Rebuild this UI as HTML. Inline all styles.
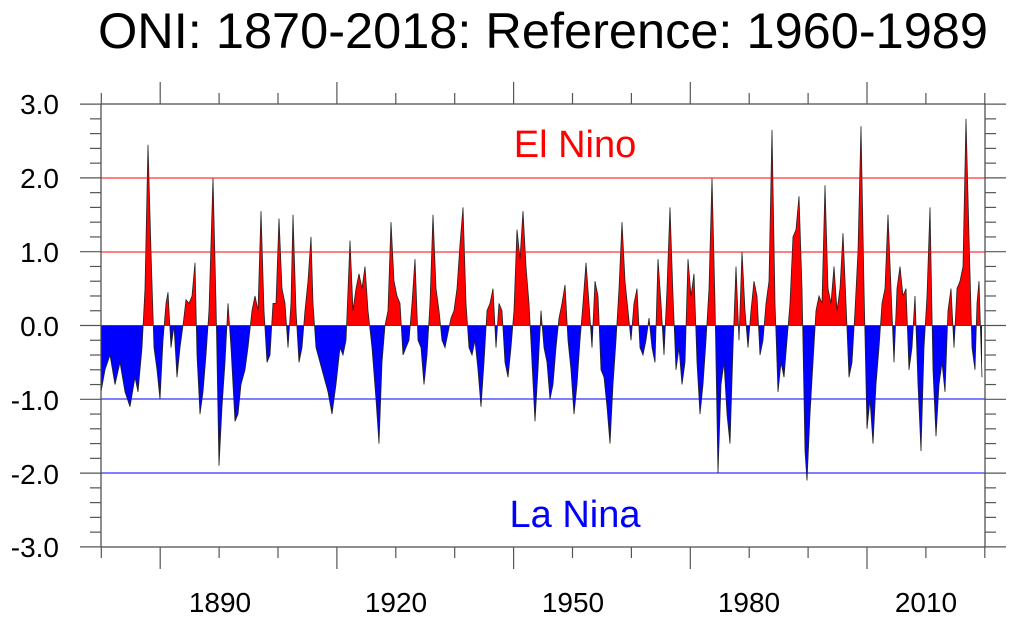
<!DOCTYPE html>
<html><head><meta charset="utf-8"><style>
html,body{margin:0;padding:0;background:#fff;}
svg{display:block;font-family:"Liberation Sans",sans-serif;}
</style></head><body>
<svg id="s" width="1016" height="622" viewBox="0 0 1016 622" xmlns="http://www.w3.org/2000/svg">
<defs>
<clipPath id="up"><rect x="101" y="104" width="884" height="221.5"/></clipPath>
<clipPath id="dn"><rect x="101" y="325.5" width="884" height="222"/></clipPath>
</defs>
<text x="543" y="48" font-size="50.5" text-anchor="middle">ONI: 1870-2018: Reference: 1960-1989</text>
<g id="area"></g>
<line x1="101" x2="985" y1="178" y2="178" stroke="#f00" stroke-width="1"/>
<line x1="101" x2="985" y1="252" y2="252" stroke="#f00" stroke-width="1"/>
<line x1="101" x2="985" y1="399" y2="399" stroke="#00f" stroke-width="1"/>
<line x1="101" x2="985" y1="473" y2="473" stroke="#00f" stroke-width="1"/>
<text x="575" y="157" font-size="38" fill="#f00" text-anchor="middle">El Nino</text>
<text x="575" y="527" font-size="38" fill="#00f" text-anchor="middle">La Nina</text>
<rect x="101" y="104" width="884" height="443" fill="none" stroke="#444" stroke-width="1.2"/>
<g id="ticks" stroke="#555" stroke-width="1.2"></g>
<g font-size="28" text-anchor="end">
<text x="59" y="114">3.0</text><text x="59" y="188">2.0</text><text x="59" y="262">1.0</text>
<text x="59" y="336">0.0</text><text x="59" y="410">-1.0</text><text x="59" y="484">-2.0</text><text x="59" y="557">-3.0</text>
</g>
<g font-size="28" text-anchor="middle">
<text x="220" y="612">1890</text><text x="396" y="612">1920</text><text x="573" y="612">1950</text>
<text x="749" y="612">1980</text><text x="926" y="612">2010</text>
</g>
</svg>
<script>
var P=[101,-0.9,105,-0.6,110,-0.4,115,-0.8,120,-0.5,125,-0.9,130,-1.1,135,-0.7,138,-0.9,142,-0.3,145,0.5,148,2.45,151,1.0,154,-0.3,157,-0.6,160,-1.0,163,-0.2,166,0.3,168,0.45,171,-0.3,174,0,177,-0.7,180,-0.3,183,0,186,0.35,189,0.3,192,0.4,195,0.85,197,-0.4,200,-1.2,203,-0.9,206,-0.4,209,0.2,213,2.0,216,0.3,219,-1.9,222,-1.1,225,-0.5,228,0.3,231,-0.3,235,-1.3,238,-1.2,241,-0.8,245,-0.6,248,-0.3,252,0.2,255,0.4,258,0.2,261,1.55,264,0.2,267,-0.5,270,-0.4,273,0.3,276,0.3,279,1.45,282,0.5,285,0.3,288,-0.3,291,0.3,293,1.5,296,0.2,299,-0.5,302,-0.3,305,0.2,308,0.6,311,1.2,313,0.3,316,-0.3,320,-0.5,324,-0.7,328,-0.9,332,-1.2,336,-0.8,340,-0.3,343,-0.4,346,-0.2,350,1.15,353,0.2,356,0.5,359,0.7,362,0.5,365,0.8,368,0.2,372,-0.3,376,-1.0,379,-1.6,382,-0.5,385,0,388,0.2,391,1.4,394,0.6,397,0.4,400,0.3,403,-0.4,406,-0.3,409,-0.2,412,0.3,415,0.9,418,-0.2,421,-0.3,424,-0.8,427,-0.4,430,0.3,433,1.5,436,0.5,439,0.2,442,-0.2,445,-0.3,448,-0.1,451,0.1,454,0.2,457,0.5,460,1.1,463,1.6,466,0.3,469,-0.3,472,-0.4,475,-0.2,478,-0.6,481,-1.1,484,-0.5,487,0.2,490,0.3,493,0.5,496,-0.3,499,0.3,502,0.2,505,-0.5,508,-0.7,511,-0.3,514,0.2,517,1.3,520,0.9,523,1.55,526,0.8,529,0.3,532,-0.5,535,-1.3,538,-0.6,541,0.2,544,-0.3,547,-0.5,550,-1.0,553,-0.8,556,-0.3,559,0.1,562,0.3,565,0.55,568,-0.2,571,-0.6,574,-1.2,577,-0.8,580,-0.2,583,0.3,586,0.85,589,0.3,592,-0.3,595,0.6,598,0.4,601,-0.6,604,-0.7,607,-1.1,610,-1.6,613,-0.8,616,-0.2,619,0.5,622,1.4,625,0.6,628,0.2,631,-0.2,634,0.3,637,0.5,640,-0.3,643,-0.4,646,-0.2,649,0.1,652,-0.3,655,-0.5,658,0.9,661,0.3,664,-0.4,667,0.5,670,1.6,673,0.4,676,-0.6,679,-0.3,682,-0.8,685,-0.5,688,0.9,691,0.4,694,0.7,697,-0.5,700,-1.2,703,-0.8,706,-0.2,709,0.5,712,2.0,715,0.3,718,-2.0,721,-0.8,724,-0.5,727,-1.2,730,-1.6,733,-0.3,736,0.8,739,-0.2,742,1.0,745,0.2,748,-0.3,751,0.2,754,0.6,757,0.4,760,-0.4,763,-0.2,766,0.3,769,0.6,772,2.65,775,0.3,778,-0.9,781,-0.5,784,-0.7,787,-0.2,790,0.3,793,1.2,796,1.3,799,1.75,802,0.5,805,-1.7,807,-2.1,810,-1.2,813,-0.5,816,0.2,819,0.4,822,0.3,825,1.9,828,0.5,831,0.3,834,0.8,837,0.2,840,0.5,843,1.25,846,0.3,849,-0.7,852,-0.5,855,0.2,858,1.0,861,2.7,864,0.5,867,-1.4,870,-1.0,873,-1.6,876,-0.8,879,-0.3,882,0.3,885,0.5,888,1.5,891,0.5,894,-0.5,897,0.5,900,0.8,903,0.4,906,0.5,909,-0.6,912,-0.3,915,0.4,918,-0.8,921,-1.7,924,-0.3,927,0.4,930,1.6,933,-0.6,936,-1.5,939,-0.8,942,-0.5,945,-0.9,948,0.2,951,0.5,954,-0.3,957,0.5,960,0.6,963,0.8,966,2.8,969,1.2,972,-0.3,975,-0.6,977,0.3,979,0.6,982,-0.7];
var y0=325.5,k=73.8,pts=[];
for(var i=0;i<P.length;i+=2)pts.push(P[i].toFixed(1)+","+(y0-P[i+1]*k).toFixed(1));
var line="M"+pts.join("L");
var area=line+"L982,"+y0+"L101,"+y0+"Z";
var ns="http://www.w3.org/2000/svg",g=document.getElementById("area");
function add(p,a){var e=document.createElementNS(ns,p);for(var n in a)e.setAttribute(n,a[n]);g.appendChild(e);}
add("path",{d:area,fill:"#f00","clip-path":"url(#up)"});
add("path",{d:area,fill:"#00f","clip-path":"url(#dn)"});
add("path",{d:line,fill:"none",stroke:"#222","stroke-width":"0.8"});
add("line",{x1:101,x2:985,y1:y0,y2:y0,stroke:"#444","stroke-width":"1"});
var t=document.getElementById("ticks"),s="";
for(var j=0;j<=30;j++){var v=-3+j*0.2,y=y0-v*k,L=(j%5==0)?21:11;
s+='<line x1="'+(101-L)+'" x2="101" y1="'+y+'" y2="'+y+'"/><line x1="985" x2="'+(985+L)+'" y1="'+y+'" y2="'+y+'"/>';}
for(var yr=1870;yr<=2020;yr+=10){var x=101.3+(yr-1870)*5.89,L=(yr%30==20)?22:11;
s+='<line x1="'+x+'" x2="'+x+'" y1="547" y2="'+(547+L)+'"/><line x1="'+x+'" x2="'+x+'" y1="104" y2="'+(104-L)+'"/>';}
t.innerHTML=s;
</script>
</body></html>
